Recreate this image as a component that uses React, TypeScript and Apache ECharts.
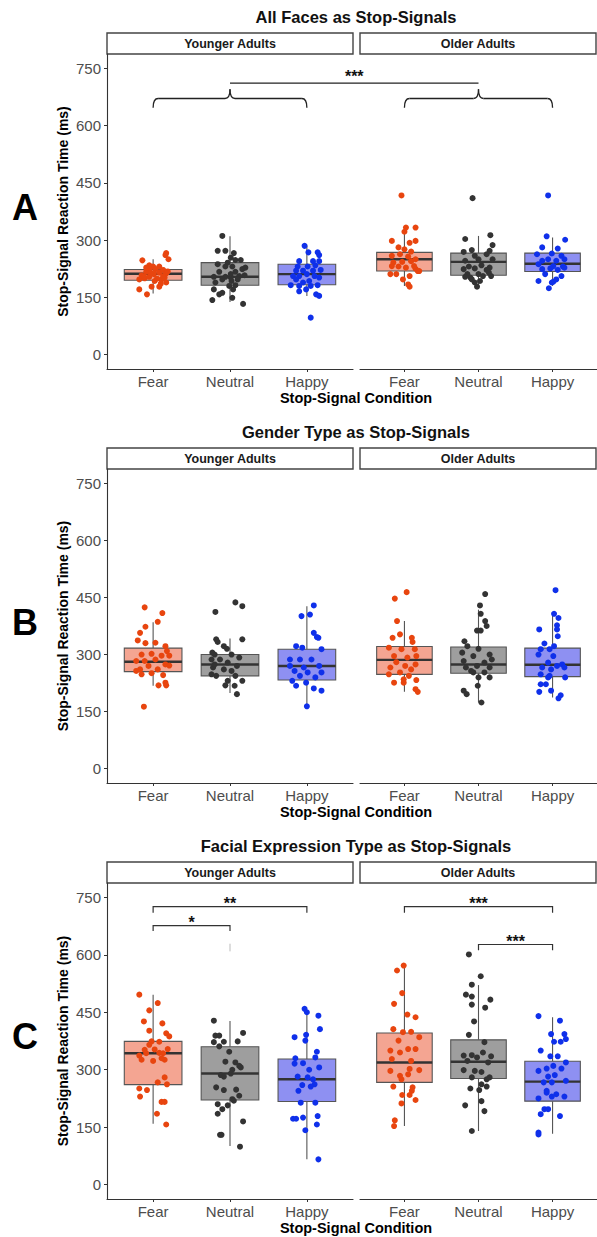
import React, { useEffect, useRef } from "react";
import * as echarts from "echarts";

// ---------- data ----------
const categories = ["Fear", "Neutral", "Happy"];
const facetNames = ["Younger Adults", "Older Adults"];
const panelTitles = [
  "All Faces as Stop-Signals",
  "Gender Type as Stop-Signals",
  "Facial Expression Type as Stop-Signals",
];
const panelLetters = ["A", "B", "C"];
const yTicks = [0, 150, 300, 450, 600, 750];
const yTitle = "Stop-Signal Reaction Time (ms)";
const xTitle = "Stop-Signal Condition";

// box stats per category: [lowerWhisker, q1, median, q3, upperWhisker]
const boxesA_young = [[160, 195, 212, 223, 250], [138, 182, 204, 241, 310], [154, 183, 211, 237, 285]];
const boxesA_old = [[180, 219, 250, 268, 329], [177, 208, 243, 266, 311], [180, 218, 238, 266, 307]];
const boxesB_young = [[218, 255, 281, 317, 385], [199, 244, 274, 300, 342], [165, 233, 270, 314, 427]];
const boxesB_old = [[202, 248, 286, 321, 388], [174, 251, 274, 320, 418], [187, 242, 273, 317, 405]];
const boxesC_young = [[159, 261, 343, 374, 496], [101, 221, 290, 360, 427], [66, 217, 275, 328, 455]];
const boxesC_old = [[153, 267, 319, 396, 572], [140, 277, 321, 378, 521], [133, 218, 269, 322, 437]];

// jittered points: [horizontal jitter (category units), value in ms]
const ptsA_young_fear = [[-0.14, 247], [0.17, 266], [0.16, 261], [0.2, 250], [0.08, 231], [-0.05, 234], [0, 231], [-0.05, 224], [0.03, 224], [-0.09, 217], [-0.15, 208], [-0.11, 200], [-0.18, 197], [-0.05, 204], [0.01, 211], [0.08, 215], [0.13, 222], [0.17, 213], [0.15, 202], [0.11, 197], [0.02, 193], [0.17, 189], [-0.02, 178], [0.08, 178], [-0.18, 171], [-0.08, 158], [0.13, 206], [-0.09, 228], [-0.12, 205], [0.05, 199], [0.19, 218], [-0.03, 214], [0.1, 186]];
const ptsA_young_neutral = [[-0.1, 311], [-0.16, 272], [-0.06, 272], [0.05, 266], [0.01, 254], [0.07, 248], [0.14, 248], [-0.16, 237], [-0.03, 241], [0.03, 231], [0.16, 224], [0.2, 228], [-0.14, 217], [0.07, 217], [-0.21, 204], [-0.06, 204], [0.01, 202], [0.12, 206], [0.19, 208], [-0.1, 197], [0.02, 193], [-0.19, 189], [-0.01, 180], [0.07, 182], [-0.21, 171], [0.04, 171], [-0.1, 162], [-0.14, 158], [-0.23, 143], [0.03, 149], [0.17, 133], [0.01, 211], [-0.06, 231], [0.1, 197]];
const ptsA_young_happy = [[-0.03, 285], [0.02, 268], [0.14, 268], [0.16, 261], [-0.1, 245], [0.08, 245], [0.16, 245], [-0.12, 231], [0.01, 231], [0.11, 234], [-0.14, 220], [-0.05, 220], [0.08, 220], [0.18, 222], [-0.18, 206], [-0.1, 206], [0, 211], [0.1, 206], [0.16, 202], [-0.14, 197], [0.03, 193], [-0.05, 189], [-0.21, 182], [-0.1, 180], [0.05, 180], [0.14, 182], [-0.01, 171], [0.12, 158], [0.16, 154], [-0.1, 166], [0.05, 97]];
const ptsA_old_fear = [[-0.04, 417], [0.02, 333], [0.15, 333], [-0.17, 298], [0, 322], [0.15, 298], [0.07, 293], [-0.08, 281], [0, 276], [0.09, 270], [-0.17, 259], [-0.06, 263], [0.05, 257], [0.15, 250], [-0.15, 241], [-0.03, 243], [0.09, 245], [-0.08, 231], [0.02, 228], [0.15, 225], [0.2, 219], [-0.19, 211], [-0.11, 211], [0.07, 206], [0.18, 219], [-0.02, 197], [0.05, 184], [0.07, 178], [-0.17, 232], [0.13, 232]];
const ptsA_old_neutral = [[-0.08, 410], [0.16, 313], [-0.18, 303], [0.19, 287], [-0.2, 269], [-0.09, 274], [0.15, 272], [-0.05, 259], [0.11, 263], [-0.18, 246], [0, 250], [0.19, 250], [-0.13, 231], [0.04, 234], [0.15, 228], [-0.2, 224], [-0.05, 226], [0.11, 222], [-0.15, 211], [0, 211], [0.17, 206], [-0.11, 202], [0.06, 206], [-0.05, 189], [-0.09, 197], [-0.02, 178], [-0.18, 204], [0.14, 215], [0.02, 193]];
const ptsA_old_happy = [[-0.06, 417], [-0.08, 310], [0.17, 301], [-0.14, 281], [0.07, 278], [-0.21, 263], [-0.01, 265], [0.12, 259], [-0.14, 246], [-0.06, 250], [0.05, 246], [0.16, 250], [-0.19, 237], [0.01, 232], [0.14, 231], [-0.14, 224], [-0.03, 226], [0.07, 222], [-0.1, 211], [0.16, 228], [-0.19, 193], [0.12, 206], [0.05, 197], [0.01, 191], [-0.05, 174], [-0.01, 189]];

const ptsB_young_fear = [[-0.11, 424], [0.12, 409], [0.06, 386], [-0.1, 373], [-0.17, 357], [-0.2, 337], [0.03, 331], [-0.1, 330], [0.16, 322], [0.18, 309], [-0.15, 300], [-0.02, 302], [0.11, 297], [0.21, 297], [-0.22, 283], [-0.11, 283], [0.03, 287], [0.16, 274], [-0.06, 270], [-0.17, 261], [0.06, 261], [-0.02, 251], [-0.15, 248], [0.13, 246], [0.16, 226], [0.07, 219], [0.17, 219], [-0.12, 163], [0.21, 271], [-0.22, 257]];
const ptsB_young_neutral = [[-0.19, 412], [0.07, 437], [0.16, 427], [-0.18, 340], [-0.16, 333], [0.16, 340], [-0.08, 322], [-0.04, 315], [-0.23, 305], [-0.2, 300], [0.02, 300], [0.12, 292], [-0.24, 287], [-0.13, 287], [-0.03, 279], [0.09, 270], [-0.22, 266], [-0.08, 261], [0.02, 257], [-0.24, 248], [-0.18, 244], [0.07, 244], [-0.03, 231], [0.16, 231], [-0.06, 219], [0.06, 218], [0.09, 196], [-0.2, 274]];
const ptsB_young_happy = [[0.09, 429], [0.04, 405], [-0.07, 401], [0.09, 357], [0.15, 344], [-0.14, 322], [-0.06, 318], [0.19, 314], [-0.22, 287], [-0.09, 287], [0.06, 287], [-0.22, 270], [-0.04, 266], [0.16, 270], [-0.16, 257], [0.01, 253], [0.19, 253], [-0.19, 231], [-0.14, 218], [-0.01, 226], [0.09, 211], [0.19, 205], [0, 164], [-0.09, 244], [0.11, 240], [0.13, 346]];
const ptsB_old_fear = [[0.03, 464], [-0.13, 447], [-0.1, 388], [-0.06, 353], [-0.16, 344], [0.1, 344], [0.11, 333], [-0.21, 318], [-0.04, 314], [0.14, 314], [-0.14, 296], [0.04, 292], [0.16, 296], [-0.11, 280], [-0.19, 266], [0.01, 270], [0.15, 274], [-0.21, 248], [-0.06, 253], [0.06, 244], [-0.14, 226], [-0.01, 226], [0.16, 233], [0.15, 209], [0.18, 202], [-0.01, 235], [0.09, 261]];
const ptsB_old_neutral = [[0.09, 459], [0.02, 429], [0.03, 407], [0.09, 388], [0.11, 375], [-0.02, 363], [0.03, 363], [-0.19, 335], [-0.15, 322], [0, 315], [0.15, 300], [0.18, 287], [-0.22, 305], [-0.07, 296], [-0.2, 283], [0.08, 279], [-0.02, 270], [-0.17, 266], [0.15, 266], [-0.07, 253], [0.08, 253], [0, 240], [0.15, 240], [-0.01, 218], [-0.2, 205], [-0.16, 196], [0.04, 174], [-0.1, 257]];
const ptsB_old_happy = [[0.04, 469], [0.02, 407], [0.08, 396], [0.06, 377], [-0.18, 366], [0.06, 366], [0.07, 348], [-0.11, 329], [0.02, 322], [-0.16, 314], [-0.04, 314], [-0.19, 300], [0.01, 296], [-0.06, 279], [0.13, 274], [-0.14, 266], [0.06, 270], [0.16, 266], [-0.02, 261], [-0.16, 248], [-0.04, 244], [0.17, 240], [-0.16, 222], [-0.09, 222], [-0.02, 205], [-0.18, 202], [0.11, 193], [0.08, 185], [-0.06, 240]];

const ptsC_young_fear = [[-0.18, 496], [0.06, 474], [-0.05, 455], [-0.12, 426], [0.12, 421], [-0.05, 402], [0.17, 395], [0.21, 387], [0.08, 373], [-0.02, 374], [-0.11, 352], [0.02, 353], [0.19, 354], [-0.18, 337], [0.08, 344], [0.15, 326], [-0.15, 326], [0, 323], [0.15, 280], [0.06, 267], [0.18, 262], [-0.18, 251], [-0.08, 247], [-0.17, 230], [0.11, 216], [0.15, 216], [0.05, 185], [0.17, 157], [-0.09, 343], [0.13, 343], [-0.05, 365], [0.11, 330]];
const ptsC_young_neutral = [[-0.21, 428], [0.17, 396], [-0.19, 389], [-0.14, 389], [-0.08, 373], [0.1, 374], [-0.21, 372], [-0.14, 361], [-0.01, 347], [-0.06, 321], [0.07, 319], [0.12, 310], [0.14, 306], [0.03, 300], [-0.12, 286], [-0.08, 282], [0.01, 290], [-0.18, 254], [-0.08, 247], [0.08, 248], [0.12, 232], [0.03, 223], [-0.03, 207], [-0.16, 210], [-0.1, 197], [-0.16, 185], [0.17, 165], [-0.13, 130], [-0.11, 130], [0.13, 99], [0.05, 219]];
const ptsC_young_happy = [[-0.03, 459], [0, 450], [0.15, 441], [0.17, 406], [-0.16, 385], [-0.01, 391], [-0.02, 376], [0.13, 347], [0.11, 332], [-0.15, 330], [-0.05, 317], [-0.16, 316], [0.16, 306], [0.03, 300], [-0.12, 282], [0.01, 280], [0.08, 275], [-0.06, 260], [0.1, 262], [0.05, 256], [-0.11, 245], [-0.08, 214], [0.11, 214], [-0.18, 172], [-0.14, 172], [-0.05, 175], [0.14, 179], [-0.02, 142], [0.13, 157], [0.15, 66]];
const ptsC_old_fear = [[-0.01, 572], [-0.1, 559], [-0.03, 500], [-0.14, 472], [0.04, 444], [0.15, 437], [-0.15, 406], [-0.02, 398], [0.09, 399], [-0.08, 376], [0.2, 385], [-0.19, 350], [0.05, 354], [0.15, 354], [-0.06, 345], [-0.17, 328], [0.09, 323], [-0.19, 297], [0.07, 302], [0.2, 299], [-0.06, 284], [-0.04, 275], [-0.15, 256], [0.11, 254], [0.1, 245], [-0.03, 234], [0.07, 234], [0.15, 221], [-0.04, 212], [-0.13, 168], [-0.14, 153], [0.05, 288]];
const ptsC_old_neutral = [[-0.13, 601], [0.03, 544], [-0.09, 522], [-0.17, 496], [-0.09, 491], [0.16, 483], [-0.09, 470], [0.09, 462], [-0.06, 426], [-0.13, 391], [0.08, 372], [-0.2, 337], [-0.09, 338], [0.06, 345], [0.17, 335], [-0.02, 332], [-0.15, 323], [0.13, 319], [-0.2, 299], [-0.05, 297], [0.04, 294], [-0.09, 280], [0.11, 275], [0.15, 280], [0.04, 262], [0.11, 256], [-0.11, 251], [0.01, 247], [0.04, 218], [-0.18, 207], [0.08, 192], [-0.09, 140]];
const ptsC_old_happy = [[-0.19, 440], [0.1, 428], [-0.02, 393], [0.16, 393], [0.02, 373], [0.11, 373], [0.18, 380], [-0.16, 350], [-0.03, 335], [0.07, 335], [0.18, 319], [-0.08, 303], [0.01, 310], [0.12, 303], [-0.19, 297], [-0.06, 282], [0.03, 286], [-0.12, 267], [-0.01, 267], [0.18, 271], [-0.08, 245], [0.05, 236], [-0.19, 225], [-0.01, 230], [0.16, 230], [-0.11, 197], [-0.06, 197], [-0.16, 184], [0.1, 179], [-0.19, 136], [-0.19, 131], [-0.08, 240]];

// significance annotations
// panel A: braces over each facet (Fear..Happy), joined between Neutral positions
const braceA = { tip: 647, flat: 671, peak: 695, join: 711, label: "***", labelY: 737 };
// panel C brackets: [facet, fromCat, toCat, lineValue, tipValue, label]
const bracketsC: [number, number, number, number, number, string][] = [
  [0, 0, 2, 726, 710, "**"],
  [0, 0, 1, 676, 662, "*"],
  [1, 0, 2, 726, 710, "***"],
  [1, 1, 2, 627, 612, "***"],
];
const strayMarkC = [1, 609, 629]; // faint grey mark in panel C, younger, neutral

// ---------- styles / layout ----------
const pointColors = ["#E8450F", "#333333", "#0F30EA"];
const fillColors = ["#F4A592", "#9E9E9E", "#8E90F2"];
const FONT = '"Liberation Sans", Arial, Helvetica, sans-serif';
const gridTops = [54, 469, 883];
const gridHeights = [315, 314, 316];
const facetLefts = [107, 360];
const facetWidth = 246;
const stripRight = [353, 596];

const boxes = [
  [boxesA_young, boxesA_old],
  [boxesB_young, boxesB_old],
  [boxesC_young, boxesC_old],
];
const points = [
  [[ptsA_young_fear, ptsA_young_neutral, ptsA_young_happy], [ptsA_old_fear, ptsA_old_neutral, ptsA_old_happy]],
  [[ptsB_young_fear, ptsB_young_neutral, ptsB_young_happy], [ptsB_old_fear, ptsB_old_neutral, ptsB_old_happy]],
  [[ptsC_young_fear, ptsC_young_neutral, ptsC_young_happy], [ptsC_old_fear, ptsC_old_neutral, ptsC_old_happy]],
];

function buildOption() {
  const grid: any[] = [];
  const xAxis: any[] = [];
  const yAxis: any[] = [];
  const series: any[] = [];
  for (let p = 0; p < 3; p++) {
    for (let f = 0; f < 2; f++) {
      const g = p * 2 + f;
      grid.push({ left: facetLefts[f], top: gridTops[p], width: facetWidth, height: gridHeights[p] });
      xAxis.push({
        type: "value",
        gridIndex: g,
        min: -0.6,
        max: 2.6,
        axisLine: { show: true, onZero: false, lineStyle: { color: "#333", width: 1.1 } },
        axisTick: { show: true, length: 3, customValues: [0, 1, 2], lineStyle: { color: "#333" } },
        axisLabel: {
          customValues: [0, 1, 2],
          formatter: (v: number) => categories[Math.round(v)] ?? "",
          color: "#4D4D4D",
          fontSize: 15,
          fontFamily: FONT,
          margin: 5,
        },
        splitLine: { show: false },
      });
      yAxis.push({
        type: "value",
        gridIndex: g,
        min: -37.5,
        max: 787.5,
        show: f === 0,
        axisLine: { show: true, onZero: false, lineStyle: { color: "#333", width: 1.1 } },
        axisTick: { show: true, length: 3, customValues: yTicks, lineStyle: { color: "#333" } },
        axisLabel: {
          customValues: yTicks,
          color: "#4D4D4D",
          fontSize: 15,
          fontFamily: FONT,
          margin: 6,
        },
        splitLine: { show: false },
      });
      series.push({
        type: "custom",
        xAxisIndex: g,
        yAxisIndex: g,
        z: 2,
        encode: { x: 0, y: [1, 2, 3, 4, 5] },
        data: boxes[p][f].map((b, i) => [i, ...b]),
        renderItem: (params: any, api: any) => {
          const x = api.value(0);
          const ci = params.dataIndex;
          const lo = api.coord([x, api.value(1)]);
          const q1 = api.coord([x, api.value(2)]);
          const md = api.coord([x, api.value(3)]);
          const q3 = api.coord([x, api.value(4)]);
          const hi = api.coord([x, api.value(5)]);
          const l = api.coord([x - 0.375, 0])[0];
          const r = api.coord([x + 0.375, 0])[0];
          return {
            type: "group",
            children: [
              { type: "line", shape: { x1: lo[0], y1: lo[1], x2: q1[0], y2: q1[1] }, style: { stroke: "#555", lineWidth: 1.1 } },
              { type: "line", shape: { x1: q3[0], y1: q3[1], x2: hi[0], y2: hi[1] }, style: { stroke: "#555", lineWidth: 1.1 } },
              { type: "rect", shape: { x: l, y: q3[1], width: r - l, height: q1[1] - q3[1] }, style: { fill: fillColors[ci], stroke: "#555", lineWidth: 1.1 } },
              { type: "line", shape: { x1: l, y1: md[1], x2: r, y2: md[1] }, style: { stroke: "#333", lineWidth: 2.4 } },
            ],
          };
        },
      });
      for (let c = 0; c < 3; c++) {
        series.push({
          type: "scatter",
          xAxisIndex: g,
          yAxisIndex: g,
          z: 3,
          symbol: "circle",
          symbolSize: 6,
          itemStyle: { color: pointColors[c], opacity: 1 },
          data: points[p][f][c].map(([j, v]) => [c + j, v]),
        });
      }
    }
  }
  return {
    animation: false,
    backgroundColor: "#ffffff",
    grid,
    xAxis,
    yAxis,
    series,
  };
}

export default function App() {
  const ref = useRef<HTMLDivElement>(null);
  useEffect(() => {
    document.body.style.margin = "0";
    const chart = echarts.init(ref.current!, undefined, { renderer: "svg" });
    chart.setOption(buildOption());

    const px = (g: number, x: number, v: number) =>
      chart.convertToPixel({ xAxisIndex: g, yAxisIndex: g }, [x, v]) as number[];

    const graphics: any[] = [];
    const txt = (x: number, y: number, text: string, font: string, fill = "#000", extra: any = {}) => ({
      type: "text",
      x,
      y,
      ...extra,
      style: { text, font, fill, textAlign: "center", textVerticalAlign: "middle" },
    });

    for (let p = 0; p < 3; p++) {
      const top = gridTops[p];
      const bottom = top + gridHeights[p];
      graphics.push(txt(356, top - 37, panelTitles[p], `bold 16.5px ${FONT}`, "#111"));
      graphics.push(txt(25, top + 153, panelLetters[p], `bold 36px ${FONT}`));
      for (let f = 0; f < 2; f++) {
        graphics.push({
          type: "rect",
          shape: { x: facetLefts[f], y: top - 21, width: stripRight[f] - facetLefts[f], height: 21 },
          style: { fill: "#fff", stroke: "#444", lineWidth: 1.4 },
        });
        graphics.push(txt((facetLefts[f] + stripRight[f]) / 2, top - 10.5, facetNames[f], `bold 12.5px ${FONT}`, "#1a1a1a"));
      }
      graphics.push(txt(356, bottom + 29, xTitle, `bold 14.5px ${FONT}`));
      graphics.push(txt(63, (top + bottom) / 2, yTitle, `bold 14px ${FONT}`, "#000", { rotation: Math.PI / 2 }));
    }

    // panel A braces
    const lineStyle = { stroke: "#222", lineWidth: 1.3, fill: null };
    for (let f = 0; f < 2; f++) {
      const g = f;
      const [x1, yTip] = px(g, 0, braceA.tip);
      const [x2] = px(g, 2, braceA.tip);
      const [xm, yFlat] = px(g, 1, braceA.flat);
      const yPeak = px(g, 1, braceA.peak)[1];
      const r = 5;
      graphics.push({ type: "bezierCurve", shape: { x1, y1: yTip, x2: x1 + r, y2: yFlat, cpx1: x1, cpy1: yFlat }, style: lineStyle });
      graphics.push({ type: "line", shape: { x1: x1 + r, y1: yFlat, x2: xm - r, y2: yFlat }, style: lineStyle });
      graphics.push({ type: "bezierCurve", shape: { x1: xm - r, y1: yFlat, x2: xm, y2: yPeak, cpx1: xm, cpy1: yFlat }, style: lineStyle });
      graphics.push({ type: "bezierCurve", shape: { x1: xm, y1: yPeak, x2: xm + r, y2: yFlat, cpx1: xm, cpy1: yFlat }, style: lineStyle });
      graphics.push({ type: "line", shape: { x1: xm + r, y1: yFlat, x2: x2 - r, y2: yFlat }, style: lineStyle });
      graphics.push({ type: "bezierCurve", shape: { x1: x2 - r, y1: yFlat, x2: x2, y2: yTip, cpx1: x2, cpy1: yFlat }, style: lineStyle });
    }
    {
      const [ja, jy] = px(0, 1, braceA.join);
      const [jb] = px(1, 1, braceA.join);
      const [, ly] = px(0, 1, braceA.labelY);
      graphics.push({ type: "line", shape: { x1: ja, y1: jy, x2: jb, y2: jy }, style: lineStyle });
      graphics.push(txt((ja + jb) / 2, ly + 3, braceA.label, `bold 16px ${FONT}`, "#111"));
    }

    // panel C brackets
    for (const [f, c1, c2, yl, yt, label] of bracketsC) {
      const g = 4 + f;
      const [x1, yLine] = px(g, c1, yl);
      const [x2, yTip] = px(g, c2, yt);
      graphics.push({
        type: "polyline",
        shape: { points: [[x1, yTip], [x1, yLine], [x2, yLine], [x2, yTip]] },
        style: { stroke: "#333", lineWidth: 1.2, fill: null },
      });
      graphics.push(txt((x1 + x2) / 2, yLine - 3, label, `bold 16px ${FONT}`, "#111"));
    }
    {
      const [sx, sy1] = px(4, strayMarkC[0], strayMarkC[1]);
      const [, sy2] = px(4, strayMarkC[0], strayMarkC[2]);
      graphics.push({ type: "line", shape: { x1: sx, y1: sy1, x2: sx, y2: sy2 }, style: { stroke: "#bbb", lineWidth: 1 } });
    }

    chart.setOption({ graphic: graphics });
    return () => chart.dispose();
  }, []);
  return <div ref={ref} style={{ width: 597, height: 1237 }} />;
}
